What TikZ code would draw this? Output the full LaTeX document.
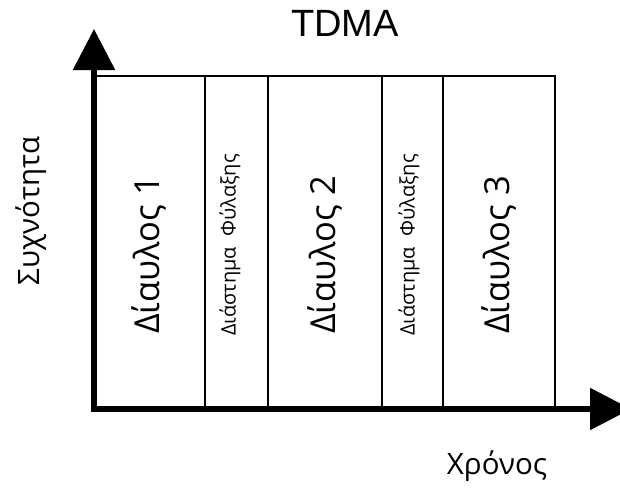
\documentclass[tikz,border=0pt]{standalone}
\usepackage{fontspec}
\setmainfont{Open Sans}
\newfontfamily\arialfont{Liberation Sans}
\usetikzlibrary{arrows.meta}
\begin{document}
\begin{tikzpicture}[x=1pt,y=-1pt,
  axis/.style={line width=5.5pt,-{Triangle[width=41pt,length=41pt]}},
  slot/.style={draw,line width=1.8pt},
  chan/.style={rotate=90,font=\fontsize{34.5}{34.5}\selectfont,inner sep=0pt},
  guard/.style={rotate=90,font=\fontsize{20}{20}\selectfont,inner sep=0pt},
  lbl/.style={font=\fontsize{29.5}{29.5}\selectfont,inner sep=0pt}]
\useasboundingbox (0,0) rectangle (620,487);
% time slots
\draw[slot] (96,407) rectangle (205,76);
\draw[slot] (205,407) rectangle (268,76);
\draw[slot] (268,407) rectangle (382,76);
\draw[slot] (382,407) rectangle (443,76);
\draw[slot] (443,407) rectangle (555,76);
% axes
\coordinate (o) at (94,409);
\coordinate (ytip) at (94,29);
\coordinate (xtip) at (631,409);
\draw[axis] ([yshift=-2.75pt]o) -- (ytip);
\draw[axis] ([xshift=-2.75pt]o) -- (xtip);
% labels
\node[font=\arialfont\fontsize{38}{38}\selectfont,inner sep=0pt] (title) at (345,23) {TDMA};
\node[lbl,rotate=90] (freq) at (31,211) {Συχνότητα};
\node[lbl] (time) at (497,466) {Χρόνος};
\node[chan] (c1) at (149,255) {Δίαυλος 1};
\node[chan] (c2) at (325,255) {Δίαυλος 2};
\node[chan] (c3) at (499,255) {Δίαυλος 3};
\node[guard] (g1) at (230,245) {Διάστημα\ \ Φύλαξης};
\node[guard] (g2) at (409,245) {Διάστημα\ \ Φύλαξης};
\end{tikzpicture}
\end{document}
